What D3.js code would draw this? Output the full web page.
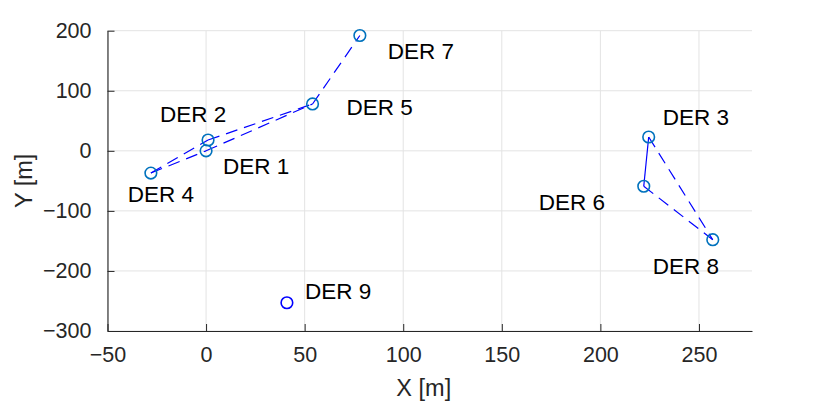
<!DOCTYPE html>
<html><head><meta charset="utf-8">
<script src="https://cdn.jsdelivr.net/npm/d3@7"></script>
<style>body{margin:0;background:#fff}svg{display:block}text{font-family:"Liberation Sans",Arial,sans-serif}</style>
</head><body><svg id="c" width="830" height="404"></svg>
<script>
const names = ["DER 1","DER 2","DER 3","DER 4","DER 5","DER 6","DER 7","DER 8","DER 9"];
const xs = [0, 1, 224.5, -28, 54, 222, 78, 257, 41];
const ys = [0, 18, 23, -37, 78, -59, 192, -148, -253];
const edgeFrom = [3, 3, 0, 1, 4, 2, 5, 2];
const edgeTo   = [0, 1, 4, 4, 6, 7, 7, 5];
const edgeDashed = [true, true, true, true, true, true, true, false];
const xTicks = [-50, 0, 50, 100, 150, 200, 250];
const yTicks = [-300, -200, -100, 0, 100, 200];
// label offsets (px) from marker
const labelDx = [17, -48, 14, -23, 34, -105, 28, -60, 18];
const labelDy = [23, -18, -12, 29, 11, 24, 23, 34, -4];

const svg = d3.select("#c");
const L = 107.5, R = 752, T = 30.7, B = 331;
const x = d3.scaleLinear().domain([-50, 276.9]).range([L, R]);
const y = d3.scaleLinear().domain([-300, 200]).range([B, T]);
const ink = "#262626";

// grid
const g = svg.append("g");
g.selectAll(".gx").data(xTicks).enter().append("line")
  .attr("x1", d => x(d)).attr("x2", d => x(d)).attr("y1", T).attr("y2", B)
  .attr("stroke", "#e3e3e3").attr("stroke-width", 1);
g.selectAll(".gy").data(yTicks).enter().append("line")
  .attr("x1", L).attr("x2", R).attr("y1", d => y(d)).attr("y2", d => y(d))
  .attr("stroke", "#e3e3e3").attr("stroke-width", 1);

// axes
const xAxis = d3.axisBottom(x).tickValues(xTicks).tickSizeInner(-7).tickSizeOuter(0).tickPadding(16);
const yAxis = d3.axisLeft(y).tickValues(yTicks).tickSizeInner(-7).tickSizeOuter(0).tickPadding(16);
const gx = svg.append("g").attr("transform", `translate(0,${B})`).call(xAxis);
const gy = svg.append("g").attr("transform", `translate(${L},0)`).call(yAxis);
[gx, gy].forEach(a => {
  a.select(".domain").attr("stroke", ink).attr("stroke-width", 1.1);
  a.selectAll(".tick line").attr("stroke", ink).attr("stroke-width", 1);
  a.selectAll(".tick text").attr("fill", ink).attr("font-size", 21.5)
    .attr("font-family", '"Liberation Sans",Arial,sans-serif');
});
gx.selectAll(".tick text").attr("dy", "0.71em");

// axis labels
svg.append("text").attr("x", (L + R) / 2 - 6).attr("y", 396).attr("text-anchor", "middle")
  .attr("font-size", 23.5).attr("fill", ink).text("X [m]");
svg.append("text").attr("transform", `translate(32,${(T + B) / 2}) rotate(-90)`)
  .attr("text-anchor", "middle").attr("font-size", 23.5).attr("fill", ink).text("Y [m]");

// edges
svg.append("g").selectAll("line").data(edgeFrom.map((f, i) => i)).enter().append("line")
  .attr("x1", i => x(xs[edgeFrom[i]])).attr("y1", i => y(ys[edgeFrom[i]]))
  .attr("x2", i => x(xs[edgeTo[i]])).attr("y2", i => y(ys[edgeTo[i]]))
  .attr("stroke", "#0000ff").attr("stroke-width", 1.2)
  .attr("stroke-dasharray", i => edgeDashed[i] ? "12,7" : null);

// markers
svg.append("g").selectAll("circle").data(names.map((n, i) => i)).enter().append("circle")
  .attr("cx", i => x(xs[i])).attr("cy", i => y(ys[i])).attr("r", 5.8)
  .attr("fill", "none").attr("stroke", i => i === 8 ? "#0000ff" : "#0072bd").attr("stroke-width", 1.6);

// labels
svg.append("g").selectAll("text").data(names.map((n, i) => i)).enter().append("text")
  .attr("x", i => x(xs[i]) + labelDx[i]).attr("y", i => y(ys[i]) + labelDy[i])
  .attr("font-size", 22.5).attr("fill", "#000").text(i => names[i]);
</script></body></html>
